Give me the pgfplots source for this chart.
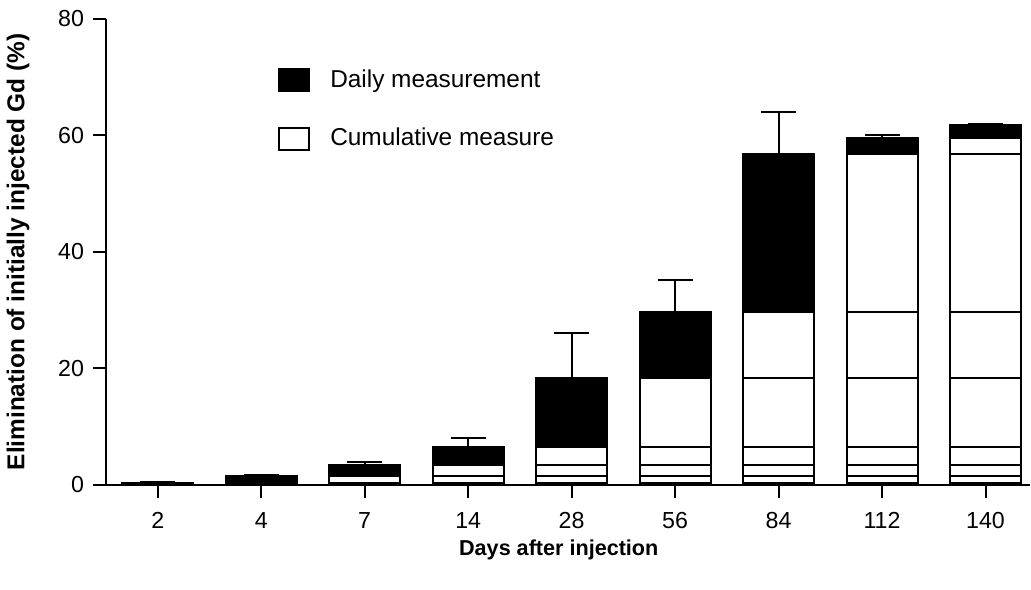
\documentclass[border=0pt]{standalone}
\usepackage{fontspec}
\setmainfont{Liberation Sans}
\usepackage{pgfplots}
\pgfplotsset{compat=1.18}
\begin{document}
\begin{tikzpicture}
\pgfplotsset{
  mybar/.style={draw=black, line width=1pt, bar shift=0pt, bar width=0.686},
  whitebar/.style={mybar, fill=white},
}
\begin{axis}[
  name=ax,
  scale only axis,
  width=462pt, height=233pt,
  ybar,
  xmin=-0.5, xmax=8.43,
  ymin=0, ymax=80,
  ytick={0,20,40,60,80},
  xtick={0,1,2,3,4,5,6,7,8},
  xticklabels={2,4,7,14,28,56,84,112,140},
  axis x line=bottom, axis y line=left,
  axis line style={-, line width=1pt},
  tick style={line width=1pt, black},
  tick align=outside,
  major tick length=6.5pt,
  /pgf/number format/assume math mode=true,
  ticklabel style={font=\fontsize{11.6}{13}\selectfont},
  xticklabel style={yshift=-3.5pt},
  yticklabel style={xshift=-1pt},
  xlabel={Days after injection},
  ylabel={Elimination of initially injected Gd (\%)},
  xlabel style={font=\fontsize{10.8}{13}\selectfont\bfseries, at={(axis description cs:0.49,-0.139)}, anchor=center},
  ylabel style={font=\fontsize{12.2}{14}\selectfont\bfseries, at={(axis description cs:-0.0952,0.5)}, anchor=center},
  legend style={at={(axis description cs:0.186,0.90)}, anchor=north west,
    draw=none, fill=none, inner xsep=0pt, inner ysep=0pt, row sep=14.8pt,
    font=\fontsize{12.2}{14}\selectfont},
  legend cell align=left,
  legend image code/.code={
    \path[draw=none, fill=none] (0pt,0pt) -- (23.5pt,0pt);
    \draw[#1, line width=1pt] (0pt,-5.5pt) rectangle (15pt,5.5pt);
  },
]
% cumulative totals with black top segment (daily measurement) and SD
\addplot[mybar, fill=black,
  error bars/.cd, y dir=plus, y explicit,
  error bar style={line width=1pt, black},
  error mark options={rotate=90, line width=1pt, black, mark size=8.75pt}]
  coordinates {
  (0,0.35) +- (0,0.15)
  (1,1.5)  +- (0,0.15)
  (2,3.4)  +- (0,0.5)
  (3,6.6)  +- (0,1.5)
  (4,18.4) +- (0,7.7)
  (5,29.7) +- (0,5.5)
  (6,56.8) +- (0,7.2)
  (7,59.5) +- (0,0.6)
  (8,61.8) +- (0,0.1)
};
\addlegendentry{Daily measurement}
% cumulative measure of previous days (white segments)
\addplot[whitebar] coordinates {(1,0.35) (2,1.5) (3,3.4) (4,6.6) (5,18.4) (6,29.7) (7,56.8) (8,59.5)};
\addlegendentry{Cumulative measure}
\addplot[whitebar, forget plot] coordinates {(2,0.35) (3,1.5) (4,3.4) (5,6.6) (6,18.4) (7,29.7) (8,56.8)};
\addplot[whitebar, forget plot] coordinates {(3,0.35) (4,1.5) (5,3.4) (6,6.6) (7,18.4) (8,29.7)};
\addplot[whitebar, forget plot] coordinates {(4,0.35) (5,1.5) (6,3.4) (7,6.6) (8,18.4)};
\addplot[whitebar, forget plot] coordinates {(5,0.35) (6,1.5) (7,3.4) (8,6.6)};
\addplot[whitebar, forget plot] coordinates {(6,0.35) (7,1.5) (8,3.4)};
\addplot[whitebar, forget plot] coordinates {(7,0.35) (8,1.5)};
\addplot[whitebar, forget plot] coordinates {(8,0.35)};
\end{axis}
\pgfresetboundingbox
\path[use as bounding box] ([shift={(-53pt,-52.5pt)}]ax.south west) rectangle ([shift={(0.5pt,9.5pt)}]ax.north east);
\end{tikzpicture}
\end{document}
